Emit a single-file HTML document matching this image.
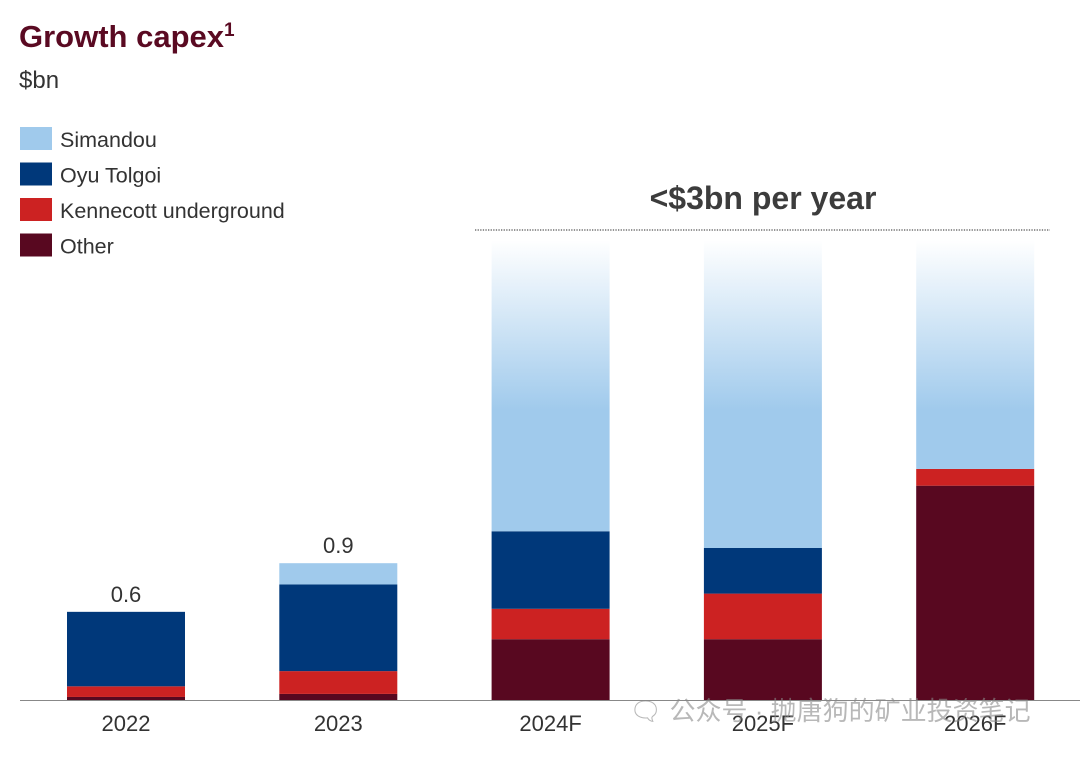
<!DOCTYPE html>
<html><head><meta charset="utf-8"><style>
body{margin:0;background:#fff;width:1080px;height:755px;overflow:hidden;font-family:"Liberation Sans","Noto Sans CJK SC",sans-serif}
</style></head><body>
<svg width="1080" height="755" xmlns="http://www.w3.org/2000/svg">
<defs>
<linearGradient id="fade" gradientUnits="userSpaceOnUse" x1="0" y1="240" x2="0" y2="410">
<stop offset="0" stop-color="#ffffff"/><stop offset="1" stop-color="#a0caec"/></linearGradient>
</defs>
<text x="19" y="47" font-size="31" font-weight="bold" fill="#5a0a22">Growth capex<tspan font-size="19" dy="-11">1</tspan></text>
<text x="19" y="88" font-size="24" fill="#333">$bn</text>
<g id="legend"></g>
<text x="763" y="209" font-size="32" font-weight="bold" fill="#3c3c3c" text-anchor="middle">&lt;$3bn per year</text>
<line x1="475" y1="230" x2="1050" y2="230" stroke="#555" stroke-width="1.3" stroke-dasharray="1.3,1.3"/>
<g id="bars"></g>
<line x1="20" y1="700.5" x2="1080" y2="700.5" stroke="#888" stroke-width="1"/>
<g id="xlabels"></g>
<text x="830" y="720" font-size="26" fill="#888" fill-opacity="0.6" text-anchor="middle">🗨 公众号 · 抛唐狗的矿业投资笔记</text>
</svg>
<script>
const categories=["2022","2023","2024F","2025F","2026F"];
const other=[0.02,0.04,0.40,0.40,1.41];
const kennecott=[0.07,0.15,0.20,0.30,0.11];
const oyuTolgoi=[0.49,0.57,0.51,0.30,0.0];
const simandou=[0.0,0.14,1.91,2.02,1.51];
const totalLabels=["0.6","0.9","","",""];
const seriesNames=["Simandou","Oyu Tolgoi","Kennecott underground","Other"];
const colors={Simandou:"#a0caec","Oyu Tolgoi":"#00387a","Kennecott underground":"#cc2222",Other:"#580820"};
const NS="http://www.w3.org/2000/svg";
const base=700,scale=152,x0=67,step=212.3,bw=118;
const y=v=>base-v*scale;
const bars=document.getElementById('bars'),xl=document.getElementById('xlabels'),lg=document.getElementById('legend');
seriesNames.forEach((n,i)=>{
 const r=document.createElementNS(NS,'rect');
 r.setAttribute('x',20);r.setAttribute('y',127+i*35.5);r.setAttribute('width',32);r.setAttribute('height',23);r.setAttribute('fill',colors[n]);
 
 
 lg.appendChild(r);
 const t=document.createElementNS(NS,'text');
 t.setAttribute('x',60);t.setAttribute('y',147+i*35.5);t.setAttribute('font-size',21.5);t.setAttribute('fill','#333');t.textContent=n;
 
 
 lg.appendChild(t);
});
categories.forEach((c,i)=>{
 const x=x0+i*step;let cum=0;
 const segs=[["Other",other[i]],["Kennecott underground",kennecott[i]],["Oyu Tolgoi",oyuTolgoi[i]],["Simandou",simandou[i]]];
 segs.forEach(([n,v])=>{
  if(v<=0)return;
  const r=document.createElementNS(NS,'rect');
  r.setAttribute('x',x);r.setAttribute('width',bw);r.setAttribute('y',y(cum+v));r.setAttribute('height',v*scale);
  r.setAttribute('fill',(n==="Simandou"&&i>=2)?'url(#fade)':colors[n]);
  
  
  bars.appendChild(r);cum+=v;
 });
 if(totalLabels[i]){
  const t=document.createElementNS(NS,'text');
  t.setAttribute('x',x+bw/2);t.setAttribute('y',y(cum)-10);t.setAttribute('font-size',22);t.setAttribute('fill','#333');t.setAttribute('text-anchor','middle');t.textContent=totalLabels[i];
  
  
  bars.appendChild(t);
 }
 const t=document.createElementNS(NS,'text');
 t.setAttribute('x',x+bw/2);t.setAttribute('y',731);t.setAttribute('font-size',22);t.setAttribute('fill','#333');t.setAttribute('text-anchor','middle');t.textContent=c;
 
 
 xl.appendChild(t);
});
</script>
</body></html>
